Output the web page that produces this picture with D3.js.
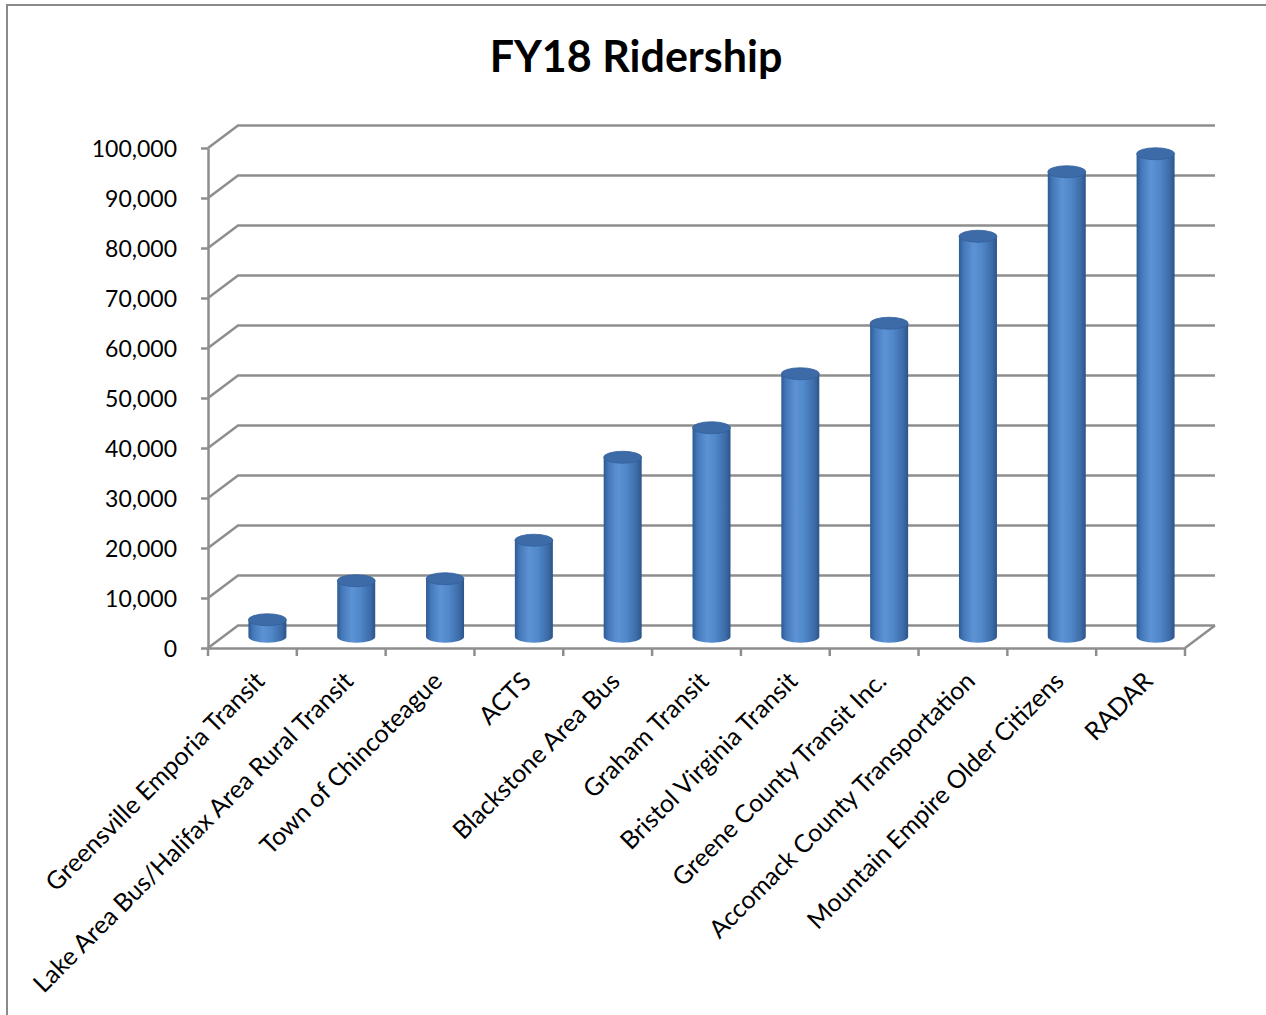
<!DOCTYPE html>
<html>
<head>
<meta charset="utf-8">
<script src="https://cdn.jsdelivr.net/npm/d3@7"></script>
<style>
  body { margin: 0; background: #fff; }
  text { font-family: Lato, "Open Sans", sans-serif; fill: #000; }
  .grid line, .grid path { stroke: #8e8e8e; stroke-width: 2.5; fill: none; }
</style>
</head>
<body>
<svg id="chart"></svg>
<script>
"use strict";
const categories = ["Greensville Emporia Transit", "Lake Area Bus/Halifax Area Rural Transit",
  "Town of Chincoteague", "ACTS", "Blackstone Area Bus", "Graham Transit",
  "Bristol Virginia Transit", "Greene County Transit Inc.", "Accomack County Transportation",
  "Mountain Empire Older Citizens", "RADAR"];
const ridership = [3400, 11200, 11600, 19300, 35900, 41800, 52600, 62700, 80100, 93000, 96600];
const yTicks = [0, 10000, 20000, 30000, 40000, 50000, 60000, 70000, 80000, 90000, 100000];

const W = 1266, H = 1015;
const depth = {dx: 30, dy: -22.5};

const svg = d3.select("#chart").attr("width", W).attr("height", H);

// gradient for cylinders
const defs = svg.append("defs");
const grad = defs.append("linearGradient").attr("id", "cyl")
    .attr("x1", "0%").attr("x2", "100%").attr("y1", "0%").attr("y2", "0%");
[["0%", "#2e5a92"], ["12%", "#4377b8"], ["38%", "#5d93d5"], ["60%", "#5088ca"],
 ["88%", "#3c6aa6"], ["100%", "#2c5488"]].forEach(s =>
    grad.append("stop").attr("offset", s[0]).attr("stop-color", s[1]));

// outer frame (only top and left visible)
svg.append("path")
    .attr("d", `M7,${H} L7,5 L${W},5`)
    .attr("fill", "none").attr("stroke", "#8a8a8a").attr("stroke-width", 2);

const x = d3.scaleBand().domain(categories).range([208, 1185]);
const y = d3.scaleLinear().domain([0, 100000]).range([648, 148]);

const grid = svg.append("g").attr("class", "grid");
// back wall lines with side diagonals
grid.selectAll(".wall").data(yTicks).enter().append("path")
    .attr("d", d => `M${x.range()[0]},${y(d)} l${depth.dx},${depth.dy} L${x.range()[1] + depth.dx},${y(d) + depth.dy}`);
// floor right edge
grid.append("path")
    .attr("d", `M${x.range()[1]},${y(0)} l${depth.dx},${depth.dy}`);

// y axis (front)
const yAxis = svg.append("g").attr("class", "grid")
    .attr("transform", `translate(${x.range()[0]},0)`)
    .call(d3.axisLeft(y).tickValues(yTicks).tickSize(7).tickSizeOuter(0)
        .tickFormat(d3.format(",")));
yAxis.selectAll("text")
    .attr("x", -31)
    .style("font-size", "23px")
    .attr("dy", "0.35em");

// x axis (front)
const xAxis = svg.append("g").attr("class", "grid")
    .attr("transform", `translate(0,${y(0)})`)
    .call(d3.axisBottom(x).tickSize(0).tickFormat(""));
xAxis.selectAll(".tk").data(d3.range(categories.length + 1)).enter().append("line")
    .attr("x1", i => x.range()[0] + i * x.step()).attr("x2", i => x.range()[0] + i * x.step())
    .attr("y1", 0).attr("y2", 8);

// cylinders
const rx = 19, ry = 6;
const bars = svg.append("g").selectAll(".bar").data(ridership).enter().append("g");
bars.append("path")
    .attr("fill", "url(#cyl)")
    .attr("d", (d, i) => {
        const cx = x(categories[i]) + x.bandwidth() / 2 + depth.dx / 2;
        const yb = y(0) + depth.dy / 2, yt = y(d) + depth.dy / 2;
        return `M${cx - rx},${yt} L${cx - rx},${yb} A${rx},${ry} 0 0 0 ${cx + rx},${yb} L${cx + rx},${yt} Z`;
    });
bars.append("ellipse")
    .attr("cx", (d, i) => x(categories[i]) + x.bandwidth() / 2 + depth.dx / 2)
    .attr("cy", d => y(d) + depth.dy / 2)
    .attr("rx", rx).attr("ry", ry)
    .attr("fill", "#3c6ba8").attr("stroke", "#34609a").attr("stroke-width", 0.8);

// category labels
svg.append("g").selectAll(".lbl").data(categories).enter().append("text")
    .attr("text-anchor", "end")
    .attr("transform", d => `translate(${x(d) + x.bandwidth() / 2 + 1},${y(0) + 22}) rotate(-45)`)
    .attr("dy", "0.72em")
    .style("font-size", "25px")
    .text(d => d);

// title
svg.append("text")
    .attr("x", 636).attr("y", 72)
    .attr("text-anchor", "middle")
    .style("font-size", "43px").style("font-weight", "bold")
    .text("FY18 Ridership");
</script>
</body>
</html>
